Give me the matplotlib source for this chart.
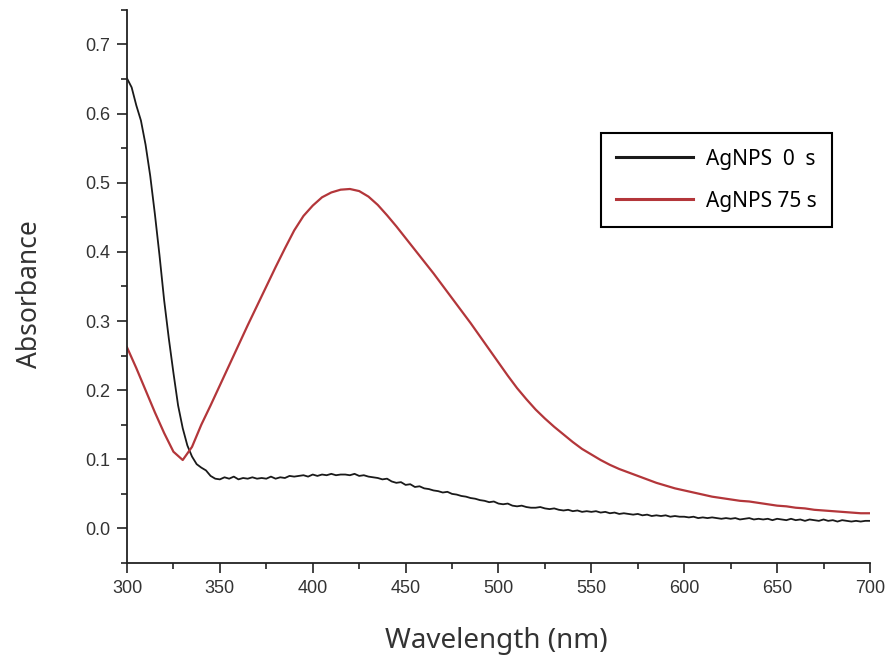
import numpy as np
import matplotlib
matplotlib.use('Agg')
import matplotlib.pyplot as plt
from matplotlib.ticker import MultipleLocator, FormatStrFormatter

plt.rcParams['font.family'] = ['Liberation Sans', 'DejaVu Sans']

# UV-Vis spectra
# AgNPS 0 s, every 2.5 nm from 300 to 700 nm
wl_0s = np.arange(300, 700.1, 2.5)
abs_0s = [
    0.651, 0.638, 0.612, 0.590, 0.555, 0.510, 0.455, 0.395,
    0.330, 0.275, 0.225, 0.178, 0.145, 0.120, 0.104, 0.093,
    0.088, 0.084, 0.076, 0.072, 0.071, 0.074, 0.072, 0.075,
    0.071, 0.073, 0.072, 0.074, 0.072, 0.073, 0.072, 0.075,
    0.072, 0.074, 0.073, 0.076, 0.075, 0.076, 0.077, 0.075,
    0.078, 0.076, 0.078, 0.077, 0.079, 0.077, 0.078, 0.078,
    0.077, 0.079, 0.076, 0.077, 0.075, 0.074, 0.073, 0.071,
    0.072, 0.068, 0.066, 0.067, 0.063, 0.064, 0.060, 0.061,
    0.058, 0.057, 0.055, 0.054, 0.052, 0.053, 0.050, 0.049,
    0.047, 0.046, 0.044, 0.043, 0.041, 0.040, 0.038, 0.039,
    0.036, 0.035, 0.036, 0.033, 0.032, 0.033, 0.031, 0.030,
    0.030, 0.031, 0.029, 0.028, 0.029, 0.027, 0.026, 0.027,
    0.025, 0.026, 0.024, 0.025, 0.024, 0.025, 0.023, 0.024,
    0.022, 0.023, 0.021, 0.022, 0.021, 0.020, 0.021, 0.019,
    0.020, 0.018, 0.019, 0.018, 0.019, 0.017, 0.018, 0.017,
    0.017, 0.016, 0.017, 0.015, 0.016, 0.015, 0.016, 0.015,
    0.014, 0.015, 0.014, 0.015, 0.013, 0.014, 0.015, 0.013,
    0.014, 0.013, 0.014, 0.012, 0.014, 0.013, 0.012, 0.014,
    0.012, 0.013, 0.011, 0.013, 0.012, 0.011, 0.013, 0.011,
    0.012, 0.010, 0.012, 0.011, 0.010, 0.011, 0.010, 0.011,
    0.011,
]

# AgNPS 75 s, every 5 nm from 300 to 700 nm
wl_75s = np.arange(300, 700.1, 5)
abs_75s = [
    0.262, 0.232, 0.200, 0.168, 0.138, 0.111, 0.099, 0.118,
    0.150, 0.178, 0.207, 0.236, 0.265, 0.294, 0.322, 0.350,
    0.378, 0.405, 0.431, 0.452, 0.467, 0.479, 0.486, 0.490,
    0.491, 0.488, 0.480, 0.468, 0.453, 0.437, 0.420, 0.403,
    0.386, 0.369, 0.351, 0.333, 0.315, 0.297, 0.278, 0.259,
    0.240, 0.221, 0.203, 0.187, 0.172, 0.159, 0.147, 0.136,
    0.125, 0.115, 0.107, 0.099, 0.092, 0.086, 0.081, 0.076,
    0.071, 0.066, 0.062, 0.058, 0.055, 0.052, 0.049, 0.046,
    0.044, 0.042, 0.040, 0.039, 0.037, 0.035, 0.033, 0.032,
    0.030, 0.029, 0.027, 0.026, 0.025, 0.024, 0.023, 0.022,
    0.022,
]

labels = ['AgNPS  0  s', 'AgNPS 75 s']
colors = ['#1a1a1a', '#b3363a']

fig = plt.figure(figsize=(8.9, 6.62), dpi=100)
ax = fig.add_axes([0.1427, 0.1495, 0.8348, 0.8355])

ax.plot(wl_0s, abs_0s, color=colors[0], lw=1.3, label=labels[0])
ax.plot(wl_75s, abs_75s, color=colors[1], lw=1.6, label=labels[1])

ax.set_xlim(300, 700)
ax.set_ylim(-0.05, 0.75)
ax.xaxis.set_major_locator(MultipleLocator(50))
ax.xaxis.set_minor_locator(MultipleLocator(25))
ax.yaxis.set_major_locator(MultipleLocator(0.1))
ax.yaxis.set_minor_locator(MultipleLocator(0.05))
ax.yaxis.set_major_formatter(FormatStrFormatter('%.1f'))

for side in ['top', 'right']:
    ax.spines[side].set_visible(False)
for side in ['left', 'bottom']:
    ax.spines[side].set_linewidth(1.3)
    ax.spines[side].set_color('#222222')

ax.tick_params(which='major', direction='out', length=7, width=1.2,
               color='#222222', labelsize=13, labelcolor='#333333', pad=5)
ax.tick_params(which='minor', direction='out', length=4, width=1.2,
               color='#222222')

ax.set_xlabel('Wavelength (nm)', fontsize=20, family='Noto Sans', color='#333333')
ax.set_ylabel('Absorbance', fontsize=19, family='Noto Sans', color='#333333')
ax.xaxis.set_label_coords(0.497, -0.115)
ax.yaxis.set_label_coords(-0.112, 0.486)

leg = ax.legend(loc='upper left', bbox_to_anchor=(0.675, 0.799),
                bbox_transform=fig.transFigure, fancybox=False,
                framealpha=1, edgecolor='black', handlelength=3.7,
                handletextpad=0.58, labelspacing=1.0, borderpad=0.75,
                borderaxespad=0,
                prop={'family': 'Noto Sans', 'size': 15})
leg.get_frame().set_linewidth(1.5)
for line in leg.get_lines():
    line.set_linewidth(2.2)

fig.savefig('out.png', dpi=100)
